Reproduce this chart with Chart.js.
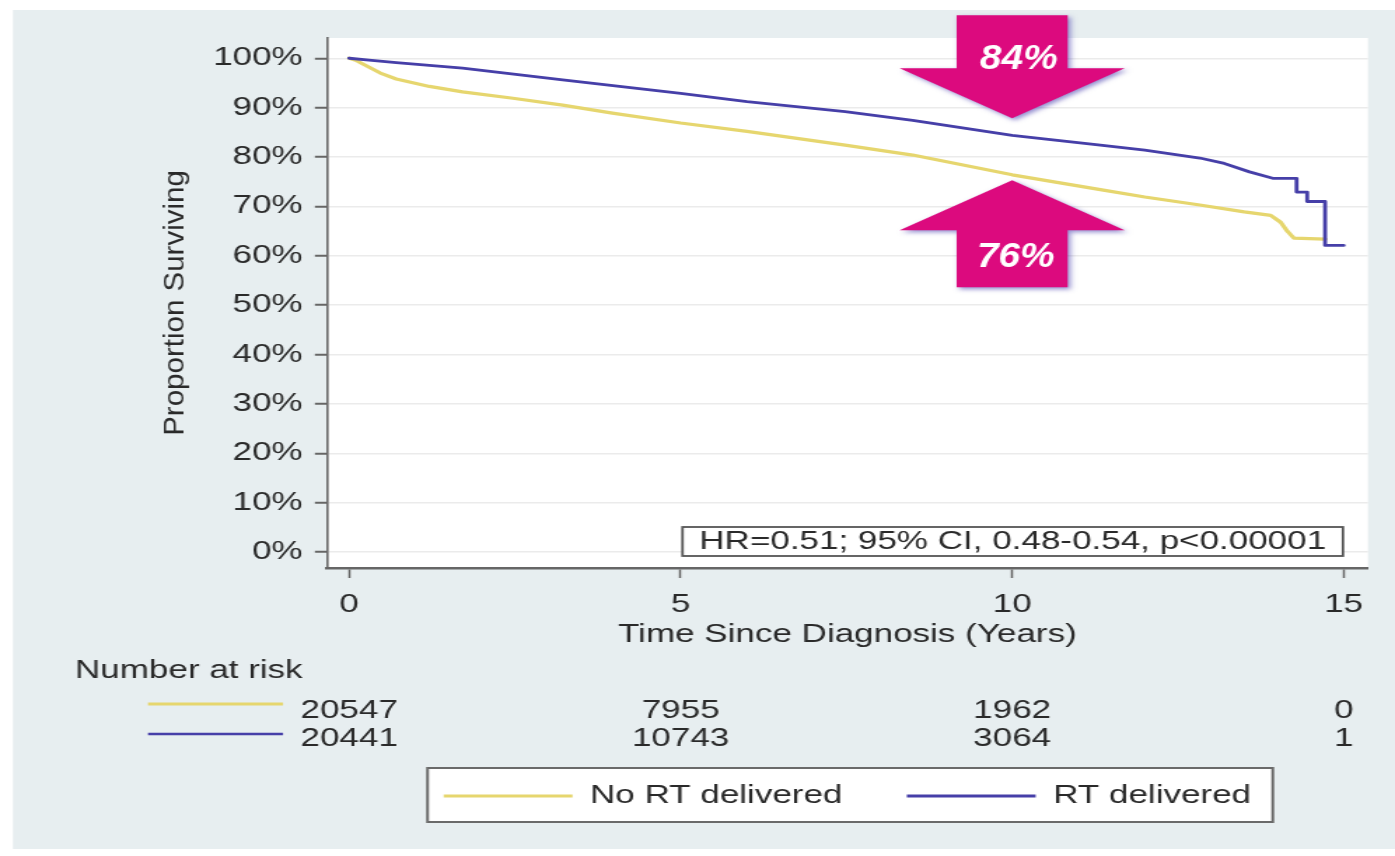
<!DOCTYPE html>
<html>
<head>
<meta charset="utf-8">
<title>Survival by radiotherapy</title>
<script src="https://cdn.jsdelivr.net/npm/chart.js@4.4.1/dist/chart.umd.min.js"></script>
<style>
  html, body { margin: 0; padding: 0; background: #ffffff; overflow: hidden; }
  /* the figure is laid out on a narrower canvas and widened horizontally */
  #frame { position: absolute; left: 0; top: 0; width: 996px; height: 856px;
           transform: scaleX(1.400602); transform-origin: 0 0; }
  #km { display: block; }
</style>
</head>
<body>
<div id="frame"><canvas id="km"></canvas></div>
<script>
// ---- data -------------------------------------------------------------
const seriesNames = ['No RT delivered', 'RT delivered'];

const noRtYears    = [0, 0.1, 0.2, 0.47, 0.71, 1.21, 1.71, 2.47, 3.22, 3.97, 5.0, 6.0, 7.48, 8.5, 10.0, 11.33, 12.0, 12.83, 13.5, 13.9, 14.05, 14.15, 14.25, 14.72];
const noRtSurvival = [100, 99.6, 98.9, 97.0, 95.8, 94.3, 93.2, 91.9, 90.5, 88.9, 86.9, 85.2, 82.4, 80.4, 76.4, 73.4, 71.9, 70.3, 68.9, 68.2, 66.8, 65.0, 63.6, 63.4];

const rtYears      = [0, 0.3, 0.71, 1.71, 3.22, 5.0, 6.0, 7.48, 8.5, 10.0, 11.33, 12.0, 12.83, 13.2, 13.58, 13.93, 14.29, 14.29, 14.45, 14.45, 14.72, 14.72, 15.0];
const rtSurvival   = [100, 99.6, 99.1, 98.0, 95.6, 92.9, 91.2, 89.2, 87.4, 84.4, 82.4, 81.4, 79.8, 78.7, 77.0, 75.7, 75.7, 72.9, 72.9, 71.0, 71.0, 62.1, 62.1];

const xTickYears   = [0, 5, 10, 15];
const yTickPercent = [0, 10, 20, 30, 40, 50, 60, 70, 80, 90, 100];

const riskYears    = [0, 5, 10, 15];
const riskNoRt     = [20547, 7955, 1962, 0];
const riskRt       = [20441, 10743, 3064, 1];

const hrText       = 'HR=0.51; 95% CI, 0.48-0.54, p<0.00001';
const calloutYear  = 10;

// ---- styling ----------------------------------------------------------
const STRETCH = 1395 / 996;
const FONT = '"Liberation Sans", Arial, Helvetica, sans-serif';
const INK = '#2a2a2a';
const AXIS = '#666666';
const NO_RT_COLOR = '#e6d66e';
const RT_COLOR = '#463fa8';
const CALLOUT = '#dc0a7e';

const toPoints = (xs, ys) => xs.map((t, i) => ({ x: t, y: ys[i] }));
const valueAt = (xs, ys, t) => ys[xs.indexOf(t)];

function legendFrame(chart) {
  const lg = chart.legend;
  const hb = lg.legendHitBoxes;
  if (!hb || !hb.length) return null;
  const last = hb[hb.length - 1];
  const cy = hb[0].top + hb[0].height / 2;
  return { left: hb[0].left - 11.5, right: last.left + last.width + 15.5, top: cy - 28, bottom: cy + 26 };
}

// backgrounds: outer panel, white plot region, white legend box
const backdrop = {
  id: 'backdrop',
  beforeDraw(chart) {
    const { ctx, width, height, chartArea: a } = chart;
    ctx.save();
    ctx.fillStyle = '#ffffff';
    ctx.fillRect(0, 0, width, height);
    ctx.fillStyle = '#e7eef0';
    ctx.fillRect(13 / STRETCH, 10, width, 839);
    ctx.fillStyle = '#ffffff';
    ctx.fillRect(a.left, a.top, a.right - a.left, a.bottom - a.top);
    const f = legendFrame(chart);
    if (f) ctx.fillRect(f.left, f.top, f.right - f.left, f.bottom - f.top);
    ctx.restore();
  }
};

// axis title, HR box, callout arrows, number-at-risk table, legend border
const overlays = {
  id: 'overlays',
  afterDraw(chart) {
    const { ctx, chartArea: a, scales: { x, y } } = chart;
    ctx.save();

    // y axis title (kept at its natural width)
    ctx.save();
    ctx.translate(a.left - 143.8 / STRETCH, (a.top + a.bottom) / 2);
    ctx.scale(1 / STRETCH, 1);
    ctx.rotate(-Math.PI / 2);
    ctx.font = '29.5px ' + FONT;
    ctx.fillStyle = INK;
    ctx.textAlign = 'center';
    ctx.textBaseline = 'alphabetic';
    ctx.fillText('Proportion Surviving', 0, 0);
    ctx.restore();

    // hazard ratio box
    ctx.font = '25px ' + FONT;
    const tw = ctx.measureText(hrText).width;
    const bxR = x.getPixelForValue(15) - 0.5;
    const bxL = bxR - tw - 24;
    const bxT = a.bottom - 41;
    const bxH = 29;
    ctx.fillStyle = '#ffffff';
    ctx.fillRect(bxL, bxT, bxR - bxL, bxH);
    ctx.strokeStyle = '#555555';
    ctx.lineWidth = 1.8;
    ctx.strokeRect(bxL, bxT, bxR - bxL, bxH);
    ctx.fillStyle = INK;
    ctx.textAlign = 'center';
    ctx.textBaseline = 'middle';
    ctx.fillText(hrText, (bxL + bxR) / 2, bxT + bxH / 2 + 1);

    // callout arrows at the chosen year
    const rtVal = valueAt(rtYears, rtSurvival, calloutYear);
    const noRtVal = valueAt(noRtYears, noRtSurvival, calloutYear);
    const cx = x.getPixelForValue(calloutYear);
    const shaftHalf = 55.5 / STRETCH;
    const headHalf = 112.5 / STRETCH;
    const drawArrow = (tipY, dir, shaftLen) => {
      const base = tipY - dir * 50;
      const end = base - dir * shaftLen;
      ctx.beginPath();
      ctx.moveTo(cx, tipY);
      ctx.lineTo(cx + headHalf, base);
      ctx.lineTo(cx + shaftHalf, base);
      ctx.lineTo(cx + shaftHalf, end);
      ctx.lineTo(cx - shaftHalf, end);
      ctx.lineTo(cx - shaftHalf, base);
      ctx.lineTo(cx - headHalf, base);
      ctx.closePath();
      ctx.fill();
    };
    const downTip = y.getPixelForValue(rtVal) - 17;
    const upTip = y.getPixelForValue(noRtVal) + 5.5;
    ctx.save();
    ctx.fillStyle = CALLOUT;
    ctx.shadowColor = 'rgba(60, 50, 170, 0.55)';
    ctx.shadowBlur = 4;
    ctx.shadowOffsetX = 2;
    ctx.shadowOffsetY = 2;
    drawArrow(downTip, 1, 53);
    drawArrow(upTip, -1, 57);
    ctx.restore();

    const calloutText = (txt, px, py) => {
      ctx.save();
      ctx.translate(px, py);
      ctx.scale(1.11 / STRETCH, 1);
      ctx.font = 'italic bold 35px ' + FONT;
      ctx.fillStyle = '#ffffff';
      ctx.textAlign = 'center';
      ctx.textBaseline = 'middle';
      ctx.fillText(txt, 0, 0);
      ctx.restore();
    };
    calloutText(Math.round(rtVal) + '%', cx + 6.5 / STRETCH, downTip - 58.5);
    calloutText(Math.round(noRtVal) + '%', cx + 3.5 / STRETCH, upTip + 77.5);

    // number at risk table
    ctx.font = '25px ' + FONT;
    ctx.fillStyle = INK;
    ctx.textBaseline = 'middle';
    ctx.textAlign = 'left';
    ctx.fillText('Number at risk', 75 / STRETCH, 671);
    const rows = [
      { vals: riskNoRt, color: NO_RT_COLOR, width: 3, textY: 711, lineY: 704 },
      { vals: riskRt, color: RT_COLOR, width: 2.5, textY: 739, lineY: 734 }
    ];
    rows.forEach(r => {
      ctx.strokeStyle = r.color;
      ctx.lineWidth = r.width;
      ctx.beginPath();
      ctx.moveTo(148 / STRETCH, r.lineY);
      ctx.lineTo(283 / STRETCH, r.lineY);
      ctx.stroke();
      ctx.fillStyle = INK;
      ctx.textAlign = 'center';
      r.vals.forEach((n, i) => ctx.fillText(String(n), x.getPixelForValue(riskYears[i]), r.textY));
    });

    // legend border
    const f = legendFrame(chart);
    if (f) {
      ctx.strokeStyle = '#6a6a6a';
      ctx.lineWidth = 2;
      ctx.strokeRect(f.left, f.top, f.right - f.left, f.bottom - f.top);
    }
    ctx.restore();
  }
};

new Chart(document.getElementById('km'), {
  type: 'line',
  data: {
    datasets: [
      { label: seriesNames[0], data: toPoints(noRtYears, noRtSurvival),
        borderColor: NO_RT_COLOR, backgroundColor: NO_RT_COLOR, borderWidth: 3.2, order: 1 },
      { label: seriesNames[1], data: toPoints(rtYears, rtSurvival),
        borderColor: RT_COLOR, backgroundColor: RT_COLOR, borderWidth: 2.8, order: 0 }
    ]
  },
  options: {
    responsive: true,
    maintainAspectRatio: false,
    animation: false,
    devicePixelRatio: 1,
    events: [],
    elements: {
      point: { radius: 0, hoverRadius: 0 },
      line: { tension: 0, fill: false, borderJoinStyle: 'round', borderCapStyle: 'round' }
    },
    layout: { padding: { top: 38, right: 19.3, bottom: 37.5, left: 0 } },
    plugins: {
      tooltip: { enabled: false },
      legend: {
        position: 'bottom',
        fullSize: false,
        align: 'center',
        labels: {
          usePointStyle: true,
          pointStyle: 'line',
          pointStyleWidth: 92,
          padding: 46,
          color: INK,
          font: { family: FONT, size: 25 },
          sort: (p, q) => p.datasetIndex - q.datasetIndex
        }
      }
    },
    scales: {
      x: {
        type: 'linear',
        min: -0.338,
        max: 15.367,
        afterBuildTicks: s => { s.ticks = xTickYears.map(v => ({ value: v })); },
        afterFit: s => { s.height = 169.5; },
        grid: { drawOnChartArea: false, drawTicks: true, tickLength: 10, tickColor: AXIS, tickWidth: 1.5 },
        border: { display: true, color: AXIS, width: 2.5 },
        ticks: { padding: 12, maxRotation: 0, autoSkip: false, color: INK, font: { family: FONT, size: 25 } },
        title: {
          display: true,
          text: 'Time Since Diagnosis (Years)',
          color: INK,
          font: { family: FONT, size: 25 },
          padding: { top: 0, bottom: 87.5 }
        }
      },
      y: {
        type: 'linear',
        min: -3.2,
        max: 104.1,
        afterBuildTicks: s => { s.ticks = yTickPercent.map(v => ({ value: v })); },
        afterFit: s => { s.width = 233.3; },
        grid: { color: '#ebebeb', lineWidth: 1.5, drawTicks: true, tickLength: 8.5, tickColor: AXIS, tickWidth: 2 },
        border: { display: true, color: AXIS, width: 1.6 },
        ticks: { padding: 8.7, color: INK, font: { family: FONT, size: 25 }, callback: v => v + '%' }
      }
    }
  },
  plugins: [backdrop, overlays]
});
</script>
</body>
</html>
